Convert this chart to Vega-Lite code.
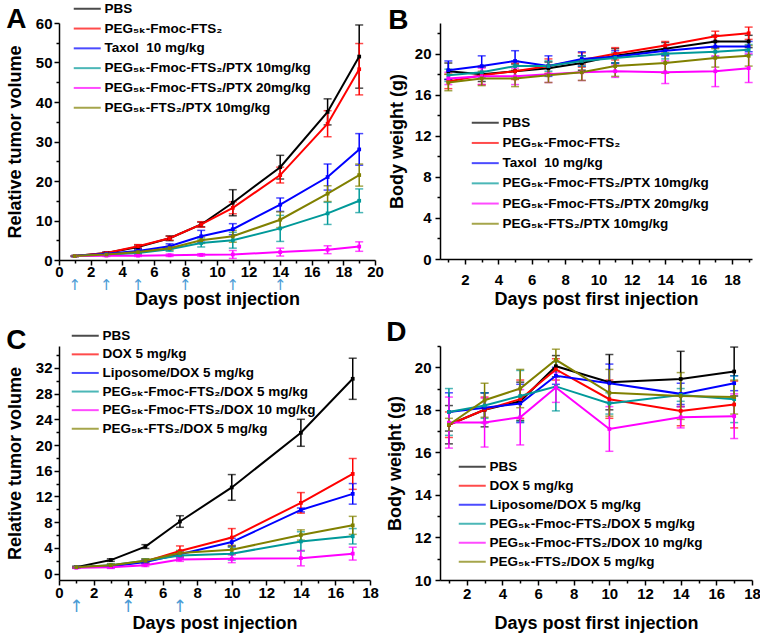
{
  "$schema": "https://vega.github.io/schema/vega-lite/v6.json",
  "padding": {"left": 6, "top": 2, "right": 0, "bottom": 2},
  "background": "white",
  "config": {
    "view": {"stroke": null},
    "font": "Liberation Sans",
    "axis": {"grid": false, "domainColor": "black", "domainWidth": 1.5, "tickColor": "black", "tickWidth": 1.5, "tickSize": 5,
      "labelFont": "Liberation Sans", "labelFontWeight": "bold", "labelFontSize": 15, "labelColor": "black",
      "titleFont": "Liberation Sans", "titleFontWeight": "bold", "titleFontSize": 18, "titleColor": "black", "labelFlush": false, "labelOverlap": false},
    "legend": {"orient": "none", "symbolType": "M-4.4,0H1", "symbolSize": 100, "symbolStrokeWidth": 2, "labelFont": "Liberation Sans, DejaVu Sans",
      "labelFontSize": 13.5, "labelFontWeight": "bold", "labelColor": "black", "labelOffset": 2, "padding": 0, "labelLimit": 400},
    "title": {"font": "Liberation Sans", "fontSize": 28, "fontWeight": "bold", "anchor": "start", "color": "black"}
  },
  "datasets": {
    "A": [
      {"g": "PBS", "d": 1, "v": 1, "e": 0.1}, {"g": "PBS", "d": 3, "v": 1.8, "e": 0.2}, {"g": "PBS", "d": 5, "v": 3.3, "e": 0.5}, {"g": "PBS", "d": 7, "v": 5.5, "e": 0.6}, {"g": "PBS", "d": 9, "v": 9, "e": 0.6}, {"g": "PBS", "d": 11, "v": 14.5, "e": 3.3}, {"g": "PBS", "d": 14, "v": 23.5, "e": 3}, {"g": "PBS", "d": 17, "v": 37.5, "e": 3.3}, {"g": "PBS", "d": 19, "v": 51.5, "e": 8},
      {"g": "PEG₅ₖ-Fmoc-FTS₂", "d": 1, "v": 1, "e": 0.1}, {"g": "PEG₅ₖ-Fmoc-FTS₂", "d": 3, "v": 1.8, "e": 0.2}, {"g": "PEG₅ₖ-Fmoc-FTS₂", "d": 5, "v": 3.5, "e": 0.4}, {"g": "PEG₅ₖ-Fmoc-FTS₂", "d": 7, "v": 5.5, "e": 0.5}, {"g": "PEG₅ₖ-Fmoc-FTS₂", "d": 9, "v": 9, "e": 0.7}, {"g": "PEG₅ₖ-Fmoc-FTS₂", "d": 11, "v": 13.2, "e": 1.5}, {"g": "PEG₅ₖ-Fmoc-FTS₂", "d": 14, "v": 21.5, "e": 2}, {"g": "PEG₅ₖ-Fmoc-FTS₂", "d": 17, "v": 34.5, "e": 3.3}, {"g": "PEG₅ₖ-Fmoc-FTS₂", "d": 19, "v": 48.3, "e": 6.5},
      {"g": "Taxol\u00a0 10 mg/kg", "d": 1, "v": 1, "e": 0.1}, {"g": "Taxol\u00a0 10 mg/kg", "d": 3, "v": 1.6, "e": 0.3}, {"g": "Taxol\u00a0 10 mg/kg", "d": 5, "v": 2.3, "e": 0.5}, {"g": "Taxol\u00a0 10 mg/kg", "d": 7, "v": 3.5, "e": 0.6}, {"g": "Taxol\u00a0 10 mg/kg", "d": 9, "v": 6, "e": 1.5}, {"g": "Taxol\u00a0 10 mg/kg", "d": 11, "v": 7.8, "e": 1.4}, {"g": "Taxol\u00a0 10 mg/kg", "d": 14, "v": 14, "e": 1.7}, {"g": "Taxol\u00a0 10 mg/kg", "d": 17, "v": 21, "e": 3.3}, {"g": "Taxol\u00a0 10 mg/kg", "d": 19, "v": 28, "e": 4},
      {"g": "PEG₅ₖ-Fmoc-FTS₂/PTX 10mg/kg", "d": 1, "v": 1, "e": 0.1}, {"g": "PEG₅ₖ-Fmoc-FTS₂/PTX 10mg/kg", "d": 3, "v": 1.3, "e": 0.2}, {"g": "PEG₅ₖ-Fmoc-FTS₂/PTX 10mg/kg", "d": 5, "v": 1.8, "e": 0.4}, {"g": "PEG₅ₖ-Fmoc-FTS₂/PTX 10mg/kg", "d": 7, "v": 2.7, "e": 0.5}, {"g": "PEG₅ₖ-Fmoc-FTS₂/PTX 10mg/kg", "d": 9, "v": 4.3, "e": 1}, {"g": "PEG₅ₖ-Fmoc-FTS₂/PTX 10mg/kg", "d": 11, "v": 5, "e": 2}, {"g": "PEG₅ₖ-Fmoc-FTS₂/PTX 10mg/kg", "d": 14, "v": 8, "e": 3.3}, {"g": "PEG₅ₖ-Fmoc-FTS₂/PTX 10mg/kg", "d": 17, "v": 11.8, "e": 2.8}, {"g": "PEG₅ₖ-Fmoc-FTS₂/PTX 10mg/kg", "d": 19, "v": 15, "e": 3},
      {"g": "PEG₅ₖ-Fmoc-FTS₂/PTX 20mg/kg", "d": 1, "v": 1, "e": 0.1}, {"g": "PEG₅ₖ-Fmoc-FTS₂/PTX 20mg/kg", "d": 3, "v": 1.1, "e": 0.2}, {"g": "PEG₅ₖ-Fmoc-FTS₂/PTX 20mg/kg", "d": 5, "v": 1.1, "e": 0.2}, {"g": "PEG₅ₖ-Fmoc-FTS₂/PTX 20mg/kg", "d": 7, "v": 1.2, "e": 0.3}, {"g": "PEG₅ₖ-Fmoc-FTS₂/PTX 20mg/kg", "d": 9, "v": 1.3, "e": 0.3}, {"g": "PEG₅ₖ-Fmoc-FTS₂/PTX 20mg/kg", "d": 11, "v": 1.4, "e": 1}, {"g": "PEG₅ₖ-Fmoc-FTS₂/PTX 20mg/kg", "d": 14, "v": 2, "e": 1}, {"g": "PEG₅ₖ-Fmoc-FTS₂/PTX 20mg/kg", "d": 17, "v": 2.6, "e": 1}, {"g": "PEG₅ₖ-Fmoc-FTS₂/PTX 20mg/kg", "d": 19, "v": 3.4, "e": 1.2},
      {"g": "PEG₅ₖ-FTS₂/PTX 10mg/kg", "d": 1, "v": 1, "e": 0.1}, {"g": "PEG₅ₖ-FTS₂/PTX 10mg/kg", "d": 3, "v": 1.4, "e": 0.2}, {"g": "PEG₅ₖ-FTS₂/PTX 10mg/kg", "d": 5, "v": 2, "e": 0.4}, {"g": "PEG₅ₖ-FTS₂/PTX 10mg/kg", "d": 7, "v": 3, "e": 0.5}, {"g": "PEG₅ₖ-FTS₂/PTX 10mg/kg", "d": 9, "v": 5, "e": 0.8}, {"g": "PEG₅ₖ-FTS₂/PTX 10mg/kg", "d": 11, "v": 6, "e": 1.5}, {"g": "PEG₅ₖ-FTS₂/PTX 10mg/kg", "d": 14, "v": 10.2, "e": 2}, {"g": "PEG₅ₖ-FTS₂/PTX 10mg/kg", "d": 17, "v": 16.8, "e": 2}, {"g": "PEG₅ₖ-FTS₂/PTX 10mg/kg", "d": 19, "v": 21.5, "e": 2.8}
    ],
    "B": [
      {"g": "PBS", "d": 1, "v": 18.3, "e": 0.8}, {"g": "PBS", "d": 3, "v": 18.0, "e": 0.7}, {"g": "PBS", "d": 5, "v": 18.3, "e": 0.7}, {"g": "PBS", "d": 7, "v": 18.6, "e": 0.6}, {"g": "PBS", "d": 9, "v": 19.1, "e": 0.7}, {"g": "PBS", "d": 11, "v": 19.8, "e": 0.7}, {"g": "PBS", "d": 14, "v": 20.5, "e": 0.6}, {"g": "PBS", "d": 17, "v": 21.2, "e": 0.6}, {"g": "PBS", "d": 19, "v": 21.2, "e": 0.6},
      {"g": "PEG₅ₖ-Fmoc-FTS₂", "d": 1, "v": 17.3, "e": 0.7}, {"g": "PEG₅ₖ-Fmoc-FTS₂", "d": 3, "v": 17.9, "e": 0.9}, {"g": "PEG₅ₖ-Fmoc-FTS₂", "d": 5, "v": 18.3, "e": 0.8}, {"g": "PEG₅ₖ-Fmoc-FTS₂", "d": 7, "v": 18.8, "e": 0.7}, {"g": "PEG₅ₖ-Fmoc-FTS₂", "d": 9, "v": 19.4, "e": 0.7}, {"g": "PEG₅ₖ-Fmoc-FTS₂", "d": 11, "v": 20.0, "e": 0.6}, {"g": "PEG₅ₖ-Fmoc-FTS₂", "d": 14, "v": 20.8, "e": 0.4}, {"g": "PEG₅ₖ-Fmoc-FTS₂", "d": 17, "v": 21.7, "e": 0.5}, {"g": "PEG₅ₖ-Fmoc-FTS₂", "d": 19, "v": 22.0, "e": 0.6},
      {"g": "Taxol\u00a0 10 mg/kg", "d": 1, "v": 18.4, "e": 0.9}, {"g": "Taxol\u00a0 10 mg/kg", "d": 3, "v": 18.8, "e": 1.0}, {"g": "Taxol\u00a0 10 mg/kg", "d": 5, "v": 19.3, "e": 1.0}, {"g": "Taxol\u00a0 10 mg/kg", "d": 7, "v": 18.8, "e": 1.0}, {"g": "Taxol\u00a0 10 mg/kg", "d": 9, "v": 19.5, "e": 0.7}, {"g": "Taxol\u00a0 10 mg/kg", "d": 11, "v": 19.7, "e": 0.6}, {"g": "Taxol\u00a0 10 mg/kg", "d": 14, "v": 20.3, "e": 0.5}, {"g": "Taxol\u00a0 10 mg/kg", "d": 17, "v": 20.7, "e": 0.5}, {"g": "Taxol\u00a0 10 mg/kg", "d": 19, "v": 20.7, "e": 0.5},
      {"g": "PEG₅ₖ-Fmoc-FTS₂/PTX 10mg/kg", "d": 1, "v": 17.9, "e": 0.6}, {"g": "PEG₅ₖ-Fmoc-FTS₂/PTX 10mg/kg", "d": 3, "v": 18.2, "e": 0.5}, {"g": "PEG₅ₖ-Fmoc-FTS₂/PTX 10mg/kg", "d": 5, "v": 18.8, "e": 0.5}, {"g": "PEG₅ₖ-Fmoc-FTS₂/PTX 10mg/kg", "d": 7, "v": 18.8, "e": 0.5}, {"g": "PEG₅ₖ-Fmoc-FTS₂/PTX 10mg/kg", "d": 9, "v": 19.3, "e": 0.5}, {"g": "PEG₅ₖ-Fmoc-FTS₂/PTX 10mg/kg", "d": 11, "v": 19.6, "e": 0.5}, {"g": "PEG₅ₖ-Fmoc-FTS₂/PTX 10mg/kg", "d": 14, "v": 20.0, "e": 0.5}, {"g": "PEG₅ₖ-Fmoc-FTS₂/PTX 10mg/kg", "d": 17, "v": 20.2, "e": 0.5}, {"g": "PEG₅ₖ-Fmoc-FTS₂/PTX 10mg/kg", "d": 19, "v": 20.4, "e": 0.5},
      {"g": "PEG₅ₖ-Fmoc-FTS₂/PTX 20mg/kg", "d": 1, "v": 17.6, "e": 0.6}, {"g": "PEG₅ₖ-Fmoc-FTS₂/PTX 20mg/kg", "d": 3, "v": 17.8, "e": 0.8}, {"g": "PEG₅ₖ-Fmoc-FTS₂/PTX 20mg/kg", "d": 5, "v": 17.8, "e": 0.8}, {"g": "PEG₅ₖ-Fmoc-FTS₂/PTX 20mg/kg", "d": 7, "v": 18.0, "e": 0.8}, {"g": "PEG₅ₖ-Fmoc-FTS₂/PTX 20mg/kg", "d": 9, "v": 18.2, "e": 0.8}, {"g": "PEG₅ₖ-Fmoc-FTS₂/PTX 20mg/kg", "d": 11, "v": 18.3, "e": 0.6}, {"g": "PEG₅ₖ-Fmoc-FTS₂/PTX 20mg/kg", "d": 14, "v": 18.2, "e": 1.1}, {"g": "PEG₅ₖ-Fmoc-FTS₂/PTX 20mg/kg", "d": 17, "v": 18.3, "e": 1.5}, {"g": "PEG₅ₖ-Fmoc-FTS₂/PTX 20mg/kg", "d": 19, "v": 18.6, "e": 1.4},
      {"g": "PEG₅ₖ-FTS₂/PTX 10mg/kg", "d": 1, "v": 17.2, "e": 0.8}, {"g": "PEG₅ₖ-FTS₂/PTX 10mg/kg", "d": 3, "v": 17.6, "e": 0.7}, {"g": "PEG₅ₖ-FTS₂/PTX 10mg/kg", "d": 5, "v": 17.6, "e": 0.8}, {"g": "PEG₅ₖ-FTS₂/PTX 10mg/kg", "d": 7, "v": 17.9, "e": 0.7}, {"g": "PEG₅ₖ-FTS₂/PTX 10mg/kg", "d": 9, "v": 18.2, "e": 0.8}, {"g": "PEG₅ₖ-FTS₂/PTX 10mg/kg", "d": 11, "v": 18.8, "e": 1.0}, {"g": "PEG₅ₖ-FTS₂/PTX 10mg/kg", "d": 14, "v": 19.1, "e": 1.0}, {"g": "PEG₅ₖ-FTS₂/PTX 10mg/kg", "d": 17, "v": 19.6, "e": 0.9}, {"g": "PEG₅ₖ-FTS₂/PTX 10mg/kg", "d": 19, "v": 19.8, "e": 1.0}
    ],
    "C": [
      {"g": "PBS", "d": 1, "v": 1, "e": 0.1}, {"g": "PBS", "d": 3, "v": 2.1, "e": 0.2}, {"g": "PBS", "d": 5, "v": 4.2, "e": 0.3}, {"g": "PBS", "d": 7, "v": 8.1, "e": 0.9}, {"g": "PBS", "d": 10, "v": 13.4, "e": 2}, {"g": "PBS", "d": 14, "v": 21.9, "e": 2.1}, {"g": "PBS", "d": 17, "v": 30.3, "e": 3.2},
      {"g": "DOX 5 mg/kg", "d": 1, "v": 1, "e": 0.1}, {"g": "DOX 5 mg/kg", "d": 3, "v": 1.2, "e": 0.2}, {"g": "DOX 5 mg/kg", "d": 5, "v": 1.9, "e": 0.3}, {"g": "DOX 5 mg/kg", "d": 7, "v": 3.5, "e": 0.8}, {"g": "DOX 5 mg/kg", "d": 10, "v": 5.6, "e": 1.4}, {"g": "DOX 5 mg/kg", "d": 14, "v": 11, "e": 1.6}, {"g": "DOX 5 mg/kg", "d": 17, "v": 15.5, "e": 2.4},
      {"g": "Liposome/DOX 5 mg/kg", "d": 1, "v": 1, "e": 0.1}, {"g": "Liposome/DOX 5 mg/kg", "d": 3, "v": 1.1, "e": 0.2}, {"g": "Liposome/DOX 5 mg/kg", "d": 5, "v": 1.8, "e": 0.3}, {"g": "Liposome/DOX 5 mg/kg", "d": 7, "v": 3, "e": 0.5}, {"g": "Liposome/DOX 5 mg/kg", "d": 10, "v": 4.9, "e": 0.6}, {"g": "Liposome/DOX 5 mg/kg", "d": 14, "v": 9.9, "e": 0.3}, {"g": "Liposome/DOX 5 mg/kg", "d": 17, "v": 12.4, "e": 1.6},
      {"g": "PEG₅ₖ-Fmoc-FTS₂/DOX 5 mg/kg", "d": 1, "v": 1, "e": 0.1}, {"g": "PEG₅ₖ-Fmoc-FTS₂/DOX 5 mg/kg", "d": 3, "v": 1.3, "e": 0.2}, {"g": "PEG₅ₖ-Fmoc-FTS₂/DOX 5 mg/kg", "d": 5, "v": 2, "e": 0.3}, {"g": "PEG₅ₖ-Fmoc-FTS₂/DOX 5 mg/kg", "d": 7, "v": 2.8, "e": 0.4}, {"g": "PEG₅ₖ-Fmoc-FTS₂/DOX 5 mg/kg", "d": 10, "v": 3.1, "e": 1}, {"g": "PEG₅ₖ-Fmoc-FTS₂/DOX 5 mg/kg", "d": 14, "v": 5, "e": 1.5}, {"g": "PEG₅ₖ-Fmoc-FTS₂/DOX 5 mg/kg", "d": 17, "v": 5.8, "e": 1.2},
      {"g": "PEG₅ₖ-Fmoc-FTS₂/DOX 10 mg/kg", "d": 1, "v": 0.9, "e": 0.1}, {"g": "PEG₅ₖ-Fmoc-FTS₂/DOX 10 mg/kg", "d": 3, "v": 1.0, "e": 0.2}, {"g": "PEG₅ₖ-Fmoc-FTS₂/DOX 10 mg/kg", "d": 5, "v": 1.3, "e": 0.2}, {"g": "PEG₅ₖ-Fmoc-FTS₂/DOX 10 mg/kg", "d": 7, "v": 2.2, "e": 0.3}, {"g": "PEG₅ₖ-Fmoc-FTS₂/DOX 10 mg/kg", "d": 10, "v": 2.3, "e": 0.6}, {"g": "PEG₅ₖ-Fmoc-FTS₂/DOX 10 mg/kg", "d": 14, "v": 2.4, "e": 1.2}, {"g": "PEG₅ₖ-Fmoc-FTS₂/DOX 10 mg/kg", "d": 17, "v": 3.1, "e": 1},
      {"g": "PEG₅ₖ-FTS₂/DOX 5 mg/kg", "d": 1, "v": 1, "e": 0.1}, {"g": "PEG₅ₖ-FTS₂/DOX 5 mg/kg", "d": 3, "v": 1.3, "e": 0.2}, {"g": "PEG₅ₖ-FTS₂/DOX 5 mg/kg", "d": 5, "v": 2, "e": 0.3}, {"g": "PEG₅ₖ-FTS₂/DOX 5 mg/kg", "d": 7, "v": 3.2, "e": 0.4}, {"g": "PEG₅ₖ-FTS₂/DOX 5 mg/kg", "d": 10, "v": 3.7, "e": 0.7}, {"g": "PEG₅ₖ-FTS₂/DOX 5 mg/kg", "d": 14, "v": 6, "e": 0.8}, {"g": "PEG₅ₖ-FTS₂/DOX 5 mg/kg", "d": 17, "v": 7.5, "e": 1.4}
    ],
    "D": [
      {"g": "PBS", "d": 1, "v": 17.3, "e": 0.9}, {"g": "PBS", "d": 3, "v": 18.0, "e": 0.8}, {"g": "PBS", "d": 5, "v": 18.4, "e": 0.9}, {"g": "PBS", "d": 7, "v": 20.05, "e": 0.5}, {"g": "PBS", "d": 10, "v": 19.3, "e": 1.3}, {"g": "PBS", "d": 14, "v": 19.45, "e": 1.3}, {"g": "PBS", "d": 17, "v": 19.8, "e": 1.15},
      {"g": "DOX 5 mg/kg", "d": 1, "v": 17.3, "e": 0.6}, {"g": "DOX 5 mg/kg", "d": 3, "v": 18.0, "e": 0.6}, {"g": "DOX 5 mg/kg", "d": 5, "v": 18.5, "e": 0.9}, {"g": "DOX 5 mg/kg", "d": 7, "v": 19.9, "e": 0.5}, {"g": "DOX 5 mg/kg", "d": 10, "v": 18.5, "e": 0.9}, {"g": "DOX 5 mg/kg", "d": 14, "v": 17.95, "e": 0.7}, {"g": "DOX 5 mg/kg", "d": 17, "v": 18.25, "e": 1.1},
      {"g": "Liposome/DOX 5 mg/kg", "d": 1, "v": 17.9, "e": 0.9}, {"g": "Liposome/DOX 5 mg/kg", "d": 3, "v": 18.1, "e": 0.7}, {"g": "Liposome/DOX 5 mg/kg", "d": 5, "v": 18.3, "e": 0.9}, {"g": "Liposome/DOX 5 mg/kg", "d": 7, "v": 19.6, "e": 0.4}, {"g": "Liposome/DOX 5 mg/kg", "d": 10, "v": 19.25, "e": 0.9}, {"g": "Liposome/DOX 5 mg/kg", "d": 14, "v": 18.75, "e": 0.5}, {"g": "Liposome/DOX 5 mg/kg", "d": 17, "v": 19.25, "e": 0.35},
      {"g": "PEG₅ₖ-Fmoc-FTS₂/DOX 5 mg/kg", "d": 1, "v": 17.9, "e": 1.1}, {"g": "PEG₅ₖ-Fmoc-FTS₂/DOX 5 mg/kg", "d": 3, "v": 18.2, "e": 0.6}, {"g": "PEG₅ₖ-Fmoc-FTS₂/DOX 5 mg/kg", "d": 5, "v": 18.65, "e": 1.2}, {"g": "PEG₅ₖ-Fmoc-FTS₂/DOX 5 mg/kg", "d": 7, "v": 19.1, "e": 1.15}, {"g": "PEG₅ₖ-Fmoc-FTS₂/DOX 5 mg/kg", "d": 10, "v": 18.3, "e": 0.5}, {"g": "PEG₅ₖ-Fmoc-FTS₂/DOX 5 mg/kg", "d": 14, "v": 18.7, "e": 0.3}, {"g": "PEG₅ₖ-Fmoc-FTS₂/DOX 5 mg/kg", "d": 17, "v": 18.5, "e": 1.1},
      {"g": "PEG₅ₖ-Fmoc-FTS₂/DOX 10 mg/kg", "d": 1, "v": 17.4, "e": 1.2}, {"g": "PEG₅ₖ-Fmoc-FTS₂/DOX 10 mg/kg", "d": 3, "v": 17.4, "e": 1.15}, {"g": "PEG₅ₖ-Fmoc-FTS₂/DOX 10 mg/kg", "d": 5, "v": 17.65, "e": 1.3}, {"g": "PEG₅ₖ-Fmoc-FTS₂/DOX 10 mg/kg", "d": 7, "v": 19.05, "e": 0.7}, {"g": "PEG₅ₖ-Fmoc-FTS₂/DOX 10 mg/kg", "d": 10, "v": 17.1, "e": 1.05}, {"g": "PEG₅ₖ-Fmoc-FTS₂/DOX 10 mg/kg", "d": 14, "v": 17.65, "e": 0.5}, {"g": "PEG₅ₖ-Fmoc-FTS₂/DOX 10 mg/kg", "d": 17, "v": 17.7, "e": 1.05},
      {"g": "PEG₅ₖ-FTS₂/DOX 5 mg/kg", "d": 1, "v": 17.3, "e": 0.3}, {"g": "PEG₅ₖ-FTS₂/DOX 5 mg/kg", "d": 3, "v": 18.45, "e": 0.8}, {"g": "PEG₅ₖ-FTS₂/DOX 5 mg/kg", "d": 5, "v": 19, "e": 0.9}, {"g": "PEG₅ₖ-FTS₂/DOX 5 mg/kg", "d": 7, "v": 20.35, "e": 0.5}, {"g": "PEG₅ₖ-FTS₂/DOX 5 mg/kg", "d": 10, "v": 18.8, "e": 1.1}, {"g": "PEG₅ₖ-FTS₂/DOX 5 mg/kg", "d": 14, "v": 18.65, "e": 1.1}, {"g": "PEG₅ₖ-FTS₂/DOX 5 mg/kg", "d": 17, "v": 18.6, "e": 0.8}
    ],
    "injA": [{"day": 1}, {"day": 3}, {"day": 5}, {"day": 8}, {"day": 11}, {"day": 14}],
    "injC": [{"day": 1}, {"day": 4}, {"day": 7}]
  },
  "columns": 2,
  "bounds": "flush",
  "spacing": {"row": 86, "column": 65},
  "resolve": {"scale": {"color": "independent"}, "legend": {"color": "independent"}},
  "concat": [
    {
      "width": 316, "height": 237,
      "title": {"text": "A", "offset": -32},
      "layer": [
        {"data": {"name": "A"}, "mark": {"type": "errorbar", "ticks": {"size": 8}, "thickness": 1.5},
          "encoding": {
            "x": {"field": "d", "type": "quantitative", "scale": {"domain": [0, 20], "nice": false}, "axis": {"orient": "bottom", "values": [1,3,5,7,9,11,13,15,17,19], "labels": false, "domain": false, "tickSize": 3, "title": null}},
            "y": {"field": "v", "type": "quantitative", "scale": {"domain": [0, 60], "nice": false}, "axis": {"orient": "left", "values": [5,15,25,35,45,55], "labels": false, "domain": false, "tickSize": 3, "title": null}},
            "yError": {"field": "e"},
            "color": {"field": "g", "type": "nominal", "scale": {"domain": ["PBS", "PEG₅ₖ-Fmoc-FTS₂", "Taxol\u00a0 10 mg/kg", "PEG₅ₖ-Fmoc-FTS₂/PTX 10mg/kg", "PEG₅ₖ-Fmoc-FTS₂/PTX 20mg/kg", "PEG₅ₖ-FTS₂/PTX 10mg/kg"], "range": ["#000000", "#ff0000", "#0000ff", "#009999", "#ff00ff", "#808000"]}}
          }},
        {"data": {"name": "A"}, "mark": {"type": "line", "strokeWidth": 2, "point": {"shape": "square", "size": 14, "filled": true}},
          "encoding": {
            "x": {"field": "d", "type": "quantitative", "scale": {"domain": [0, 20], "nice": false}, "axis": {"orient": "bottom", "values": [0,2,4,6,8,10,12,14,16,18,20], "title": "Days post injection", "labelPadding": -1, "titlePadding": 11}},
            "y": {"field": "v", "type": "quantitative", "scale": {"domain": [0, 60], "nice": false}, "axis": {"orient": "left", "values": [0,10,20,30,40,50,60], "title": "Relative tumor volume", "labelPadding": 2, "titlePadding": 11}},
            "color": {"field": "g", "type": "nominal", "scale": {"domain": ["PBS", "PEG₅ₖ-Fmoc-FTS₂", "Taxol\u00a0 10 mg/kg", "PEG₅ₖ-Fmoc-FTS₂/PTX 10mg/kg", "PEG₅ₖ-Fmoc-FTS₂/PTX 20mg/kg", "PEG₅ₖ-FTS₂/PTX 10mg/kg"], "range": ["#000000", "#ff0000", "#0000ff", "#009999", "#ff00ff", "#808000"]},
              "legend": {"title": null, "legendX": 30, "legendY": -21, "rowPadding": 4.8}}
          }},
        {"data": {"name": "injA"}, "mark": {"type": "text", "text": "↑", "font": "DejaVu Sans", "fontSize": 15, "color": "#4b9bd5", "baseline": "middle"},
          "encoding": {
            "x": {"field": "day", "type": "quantitative", "scale": {"domain": [0, 20], "nice": false}, "axis": null},
            "y": {"datum": -6.4, "type": "quantitative", "scale": {"domain": [0, 60], "nice": false}, "axis": null}
          }}
      ],
      "resolve": {"axis": {"x": "independent", "y": "independent"}}
    },
    {
      "width": 312, "height": 236,
      "title": {"text": "B", "offset": -12},
      "layer": [
        {"data": {"name": "B"}, "mark": {"type": "errorbar", "ticks": {"size": 8}, "thickness": 1.5},
          "encoding": {
            "x": {"field": "d", "type": "quantitative", "scale": {"domain": [0.5, 19.2], "nice": false}, "axis": {"orient": "bottom", "values": [1,3,5,7,9,11,13,15,17,19], "labels": false, "domain": false, "tickSize": 3, "title": null}},
            "y": {"field": "v", "type": "quantitative", "scale": {"domain": [0, 23], "nice": false}, "axis": {"orient": "left", "values": [2,6,10,14,18,22], "labels": false, "domain": false, "tickSize": 3, "title": null}},
            "yError": {"field": "e"},
            "color": {"field": "g", "type": "nominal", "scale": {"domain": ["PBS", "PEG₅ₖ-Fmoc-FTS₂", "Taxol\u00a0 10 mg/kg", "PEG₅ₖ-Fmoc-FTS₂/PTX 10mg/kg", "PEG₅ₖ-Fmoc-FTS₂/PTX 20mg/kg", "PEG₅ₖ-FTS₂/PTX 10mg/kg"], "range": ["#000000", "#ff0000", "#0000ff", "#009999", "#ff00ff", "#808000"]}}
          }},
        {"data": {"name": "B"}, "mark": {"type": "line", "strokeWidth": 2, "point": {"shape": "square", "size": 14, "filled": true}},
          "encoding": {
            "x": {"field": "d", "type": "quantitative", "scale": {"domain": [0.5, 19.2], "nice": false}, "axis": {"orient": "bottom", "values": [2,4,6,8,10,12,14,16,18], "title": "Days post first injection", "labelPadding": 8, "titlePadding": 3}},
            "y": {"field": "v", "type": "quantitative", "scale": {"domain": [0, 23], "nice": false}, "axis": {"orient": "left", "values": [0,4,8,12,16,20], "title": "Body weight (g)", "labelPadding": 4, "titlePadding": 8}},
            "color": {"field": "g", "type": "nominal", "scale": {"domain": ["PBS", "PEG₅ₖ-Fmoc-FTS₂", "Taxol\u00a0 10 mg/kg", "PEG₅ₖ-Fmoc-FTS₂/PTX 10mg/kg", "PEG₅ₖ-Fmoc-FTS₂/PTX 20mg/kg", "PEG₅ₖ-FTS₂/PTX 10mg/kg"], "range": ["#000000", "#ff0000", "#0000ff", "#009999", "#ff00ff", "#808000"]},
              "legend": {"title": null, "legendX": 47, "legendY": 93, "rowPadding": 5.2}}
          }}
      ],
      "resolve": {"axis": {"x": "independent", "y": "independent"}}
    },
    {
      "width": 311, "height": 234,
      "title": {"text": "C", "offset": -26},
      "layer": [
        {"data": {"name": "C"}, "mark": {"type": "errorbar", "ticks": {"size": 8}, "thickness": 1.5},
          "encoding": {
            "x": {"field": "d", "type": "quantitative", "scale": {"domain": [0, 18], "nice": false}, "axis": {"orient": "bottom", "values": [1,3,5,7,9,11,13,15,17], "labels": false, "domain": false, "tickSize": 3, "title": null}},
            "y": {"field": "v", "type": "quantitative", "scale": {"domain": [-1, 35.4], "nice": false}, "axis": {"orient": "left", "values": [2,6,10,14,18,22,26,30,34], "labels": false, "domain": false, "tickSize": 3, "title": null}},
            "yError": {"field": "e"},
            "color": {"field": "g", "type": "nominal", "scale": {"domain": ["PBS", "DOX 5 mg/kg", "Liposome/DOX 5 mg/kg", "PEG₅ₖ-Fmoc-FTS₂/DOX 5 mg/kg", "PEG₅ₖ-Fmoc-FTS₂/DOX 10 mg/kg", "PEG₅ₖ-FTS₂/DOX 5 mg/kg"], "range": ["#000000", "#ff0000", "#0000ff", "#009999", "#ff00ff", "#808000"]}}
          }},
        {"data": {"name": "C"}, "mark": {"type": "line", "strokeWidth": 2, "point": {"shape": "square", "size": 14, "filled": true}},
          "encoding": {
            "x": {"field": "d", "type": "quantitative", "scale": {"domain": [0, 18], "nice": false}, "axis": {"orient": "bottom", "values": [0,2,4,6,8,10,12,14,16,18], "title": "Days post injection", "labelPadding": 0, "titlePadding": 14}},
            "y": {"field": "v", "type": "quantitative", "scale": {"domain": [-1, 35.4], "nice": false}, "axis": {"orient": "left", "values": [0,4,8,12,16,20,24,28,32], "title": "Relative tumor volume", "labelPadding": 2, "titlePadding": 11}},
            "color": {"field": "g", "type": "nominal", "scale": {"domain": ["PBS", "DOX 5 mg/kg", "Liposome/DOX 5 mg/kg", "PEG₅ₖ-Fmoc-FTS₂/DOX 5 mg/kg", "PEG₅ₖ-Fmoc-FTS₂/DOX 10 mg/kg", "PEG₅ₖ-FTS₂/DOX 5 mg/kg"], "range": ["#000000", "#ff0000", "#0000ff", "#009999", "#ff00ff", "#808000"]},
              "legend": {"title": null, "legendX": 28, "legendY": -17, "rowPadding": 3.6}}
          }},
        {"data": {"name": "injC"}, "mark": {"type": "text", "text": "↑", "font": "DejaVu Sans", "fontSize": 17, "color": "#4b9bd5", "baseline": "middle"},
          "encoding": {
            "x": {"field": "day", "type": "quantitative", "scale": {"domain": [0, 18], "nice": false}, "axis": null},
            "y": {"datum": -5.2, "type": "quantitative", "scale": {"domain": [-1, 35.4], "nice": false}, "axis": null}
          }}
      ],
      "resolve": {"axis": {"x": "independent", "y": "independent"}}
    },
    {
      "width": 312, "height": 234,
      "title": {"text": "D", "offset": -2},
      "layer": [
        {"data": {"name": "D"}, "mark": {"type": "errorbar", "ticks": {"size": 8}, "thickness": 1.5},
          "encoding": {
            "x": {"field": "d", "type": "quantitative", "scale": {"domain": [0.5, 18], "nice": false}, "axis": {"orient": "bottom", "values": [1,3,5,7,9,11,13,15,17], "labels": false, "domain": false, "tickSize": 3, "title": null}},
            "y": {"field": "v", "type": "quantitative", "scale": {"domain": [10, 21], "nice": false}, "axis": {"orient": "left", "values": [11,13,15,17,19,21], "labels": false, "domain": false, "tickSize": 3, "title": null}},
            "yError": {"field": "e"},
            "color": {"field": "g", "type": "nominal", "scale": {"domain": ["PBS", "DOX 5 mg/kg", "Liposome/DOX 5 mg/kg", "PEG₅ₖ-Fmoc-FTS₂/DOX 5 mg/kg", "PEG₅ₖ-Fmoc-FTS₂/DOX 10 mg/kg", "PEG₅ₖ-FTS₂/DOX 5 mg/kg"], "range": ["#000000", "#ff0000", "#0000ff", "#009999", "#ff00ff", "#808000"]}}
          }},
        {"data": {"name": "D"}, "mark": {"type": "line", "strokeWidth": 2, "point": {"shape": "square", "size": 14, "filled": true}},
          "encoding": {
            "x": {"field": "d", "type": "quantitative", "scale": {"domain": [0.5, 18], "nice": false}, "axis": {"orient": "bottom", "values": [2,4,6,8,10,12,14,16,18], "title": "Days post first injection", "labelPadding": 1, "titlePadding": 13}},
            "y": {"field": "v", "type": "quantitative", "scale": {"domain": [10, 21], "nice": false}, "axis": {"orient": "left", "values": [10,12,14,16,18,20], "title": "Body weight (g)", "labelPadding": 4, "titlePadding": 10}},
            "color": {"field": "g", "type": "nominal", "scale": {"domain": ["PBS", "DOX 5 mg/kg", "Liposome/DOX 5 mg/kg", "PEG₅ₖ-Fmoc-FTS₂/DOX 5 mg/kg", "PEG₅ₖ-Fmoc-FTS₂/DOX 10 mg/kg", "PEG₅ₖ-FTS₂/DOX 5 mg/kg"], "range": ["#000000", "#ff0000", "#0000ff", "#009999", "#ff00ff", "#808000"]},
              "legend": {"title": null, "legendX": 34, "legendY": 114, "rowPadding": 4.0}}
          }}
      ],
      "resolve": {"axis": {"x": "independent", "y": "independent"}}
    }
  ]
}
